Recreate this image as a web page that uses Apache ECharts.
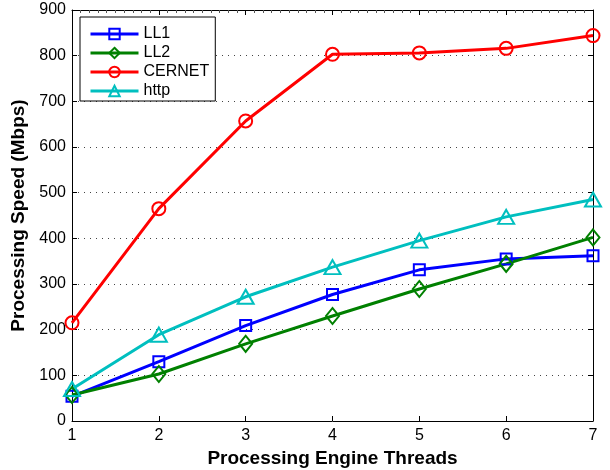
<!DOCTYPE html>
<html>
<head>
<meta charset="utf-8">
<script src="https://cdn.jsdelivr.net/npm/echarts@6/dist/echarts.min.js"></script>
<style>html,body{margin:0;padding:0;background:#fff;}#c{width:610px;height:470px;}</style>
</head>
<body>
<div id="c"></div>
<script>
var threads = [1, 2, 3, 4, 5, 6, 7];
var ll1 = [54, 130, 209, 277, 331, 355, 362];
var ll2 = [57, 103, 169, 230, 289, 344, 402];
var cernet = [215, 465, 657, 803, 806, 816, 844];
var http = [70, 189, 272, 337, 395, 447, 485];
var yTicks = [0, 100, 200, 300, 400, 500, 600, 700, 800, 900];

function pairs(v) { return threads.map(function (t, i) { return [t, v[i]]; }); }
function mk(name, data, color, symbol, size) {
  return {
    name: name, type: 'line', data: pairs(data), color: color,
    symbol: symbol, symbolSize: size, showSymbol: true,
    lineStyle: { color: color, width: 3 },
    itemStyle: { color: 'rgba(255,255,255,0)', borderColor: color, borderWidth: 2 },
    emphasis: { disabled: true }, animation: false, z: 3
  };
}
var font = 'Liberation Sans, Arial, sans-serif';
var chart = echarts.init(document.getElementById('c'), null, { renderer: 'canvas' });
chart.setOption({
  backgroundColor: '#fff',
  animation: false,
  grid: { left: 72, right: 17, top: 10, bottom: 49, containLabel: false, outerBoundsMode: 'none' },
  legend: {
    left: 80, top: 17, orient: 'vertical',
    backgroundColor: '#fff', borderColor: '#000', borderWidth: 1,
    padding: [9, 6, 2, 9], itemWidth: 48, itemHeight: 13, itemGap: 3,
    lineStyle: { width: 3 },
    textStyle: { fontFamily: font, fontSize: 16, color: '#000' },
    data: ['LL1', 'LL2', 'CERNET', 'http']
  },
  xAxis: [{
    type: 'value', min: 1, max: 7, interval: 1, position: 'bottom',
    name: 'Processing Engine Threads', nameLocation: 'middle', nameGap: 25,
    nameTextStyle: { fontFamily: font, fontSize: 19, fontWeight: 'bold', color: '#000' },
    axisLine: { lineStyle: { color: '#000', width: 1 } },
    axisTick: { inside: true, length: 5, lineStyle: { color: '#000' } },
    axisLabel: { fontFamily: font, fontSize: 16, color: '#000', margin: 7 },
    splitLine: { show: false }
  }, {
    type: 'value', min: 1, max: 7, interval: 1, position: 'top',
    axisLine: { show: true, onZero: false, lineStyle: { color: '#000', width: 1 } },
    axisTick: { inside: true, length: 5, lineStyle: { color: '#000' } },
    minorTick: { show: true, splitNumber: 10, length: 3, lineStyle: { color: '#555' } },
    axisLabel: { show: false }, splitLine: { show: false }
  }],
  yAxis: [{
    type: 'value', min: 0, max: 900, interval: 100,
    name: 'Processing Speed (Mbps)', nameLocation: 'middle', nameGap: 37,
    nameTextStyle: { fontFamily: font, fontSize: 19, fontWeight: 'bold', color: '#000' },
    axisLine: { show: true, lineStyle: { color: '#000', width: 1 } },
    axisTick: { show: true, inside: true, length: 5, lineStyle: { color: '#000' } },
    axisLabel: { fontFamily: font, fontSize: 16, color: '#000', margin: 6,
      formatter: function (v) { return yTicks.indexOf(v) >= 0 ? String(v) : ''; } },
    splitLine: { show: true, lineStyle: { color: '#444', type: [1, 5], width: 1 } }
  }, {
    type: 'value', min: 0, max: 900, interval: 100, position: 'right',
    axisLine: { show: true, onZero: false, lineStyle: { color: '#000', width: 1 } },
    axisTick: { show: true, inside: true, length: 5, lineStyle: { color: '#000' } },
    axisLabel: { show: false }, splitLine: { show: false }
  }],
  series: [
    mk('LL1', ll1, '#0000ff', 'rect', 11),
    mk('LL2', ll2, '#008000', 'diamond', [13, 16]),
    mk('CERNET', cernet, '#ff0000', 'circle', 13),
    mk('http', http, '#00bfbf', 'triangle', [16, 14])
  ]
});
</script>
</body>
</html>
